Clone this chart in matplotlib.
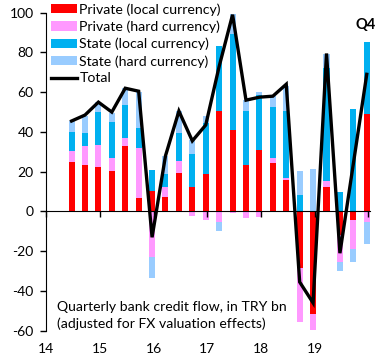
import numpy as np
import matplotlib
matplotlib.use("Agg")
import matplotlib.pyplot as plt

plt.rcParams['font.family'] = ['Lato', 'DejaVu Sans']
plt.rcParams['axes.unicode_minus'] = False

# quarters 2014Q2 .. 2019Q4
quarters = ["2014Q2", "2014Q3", "2014Q4",
            "2015Q1", "2015Q2", "2015Q3", "2015Q4",
            "2016Q1", "2016Q2", "2016Q3", "2016Q4",
            "2017Q1", "2017Q2", "2017Q3", "2017Q4",
            "2018Q1", "2018Q2", "2018Q3", "2018Q4",
            "2019Q1", "2019Q2", "2019Q3", "2019Q4"]

private_local = [25, 23.5, 22.3, 20.5, 33, 6.7, 10.5, 7.5, 19.3, 12.5, 18.8, 50.3,
                 40.8, 23.5, 30.8, 24.3, 15.8, -28.7, -51.7, 12.3, -11.7, -4.2, 48.8]
private_hard = [5.5, 9.5, 11.2, 6.5, 4, 25.3, -23, 5, 6.2, -2.2, -4.3, -5.3,
                -0.7, -3.2, -2.7, 2.5, 1.2, -27.1, -8, 3, -13.6, -14.5, -5.3]
state_local = [9.5, 6.5, 16.5, 18, 16.5, 10, 10.5, 6.5, 14, 16.5, 25.7, 33,
               48.7, 27, 27.9, 26, 33.3, 8.3, 0, 57, 9.7, 51.3, 36.5]
state_hard = [5.5, 8.5, 5, 4.5, 8.5, 18, -10.7, 9, 10.8, 7, 3.5, -4.7,
              10, 5.5, 1.6, 5.5, 13, 12, 21.3, 7, -4.7, -6.8, -10.9]
total = [45.5, 48.5, 55, 50, 62, 60.5, -13, 28, 50.5, 35.5, 43.5, 73,
         99, 56, 57.5, 58, 64, -35.5, -46, 79.5, -21, 24, 69]

series = [("Private (local currency)", private_local, "#FF0000"),
          ("Private (hard currency)", private_hard, "#FF99FF"),
          ("State (local currency)", state_local, "#00B0F0"),
          ("State (hard currency)", state_hard, "#99CCFF")]

years = [2014, 2015, 2016, 2017, 2018, 2019, 2020]
year_labels = ["14", "15", "16", "17", "18", "19", ""]


def quarter_end(q):
    y, n = int(q[:4]), int(q[5])
    return y + n / 4 - 0.03


x = np.array([quarter_end(q) for q in quarters])

fig = plt.figure(figsize=(3.83, 3.6), dpi=100)
ax = fig.add_axes([0.121, 0.0814, 0.845, 0.8833])

pos_base = np.zeros(len(x))
neg_base = np.zeros(len(x))
handles = []
for name, vals, col in series:
    v = np.array(vals, dtype=float)
    base = np.where(v >= 0, pos_base, neg_base)
    h = ax.bar(x, v, bottom=base, width=0.112, color=col, label=name, linewidth=0)
    handles.append(h)
    pos_base += np.where(v >= 0, v, 0)
    neg_base += np.where(v < 0, v, 0)

line, = ax.plot(x, total, color="black", linewidth=2.4, label="Total", solid_joinstyle="miter")
handles.append(line)

ax.set_xlim(2014.0, 2020.03)
ax.set_ylim(-60, 100)
ax.set_yticks(np.arange(-60, 101, 20))
ax.tick_params(axis='y', direction='out', length=4.5, width=1, labelsize=10, pad=4.5)

for s in ['top', 'right']:
    ax.spines[s].set_visible(False)
ax.spines['bottom'].set_position(('data', 0))
ax.spines['left'].set_bounds(-60, 100)
ax.set_xticks(years)
ax.tick_params(axis='x', direction='out', length=4, width=1, labelbottom=False)

sec = ax.secondary_xaxis('bottom')
sec.set_xticks(years)
sec.set_xticklabels(year_labels)
sec.tick_params(length=0, labelsize=10, pad=9)
sec.spines['bottom'].set_visible(False)

ax.text(2019.94, 93.8, "Q4", ha='center', va='center', fontsize=10.5, fontweight='bold')
ax.text(0.033, 0.094, "Quarterly bank credit flow, in TRY bn\n(adjusted for FX valuation effects)",
        transform=ax.transAxes, ha='left', va='top', fontsize=10.1, linespacing=1.42)

fig.legend(handles=handles, loc='upper left', bbox_to_anchor=(51 / 383, 1 - 3 / 360), frameon=False,
           borderpad=0, borderaxespad=0, fontsize=10.2, handlelength=1.8,
           handleheight=0.62, handletextpad=0.2, labelspacing=0.34)

fig.savefig("out.png", dpi=100)
